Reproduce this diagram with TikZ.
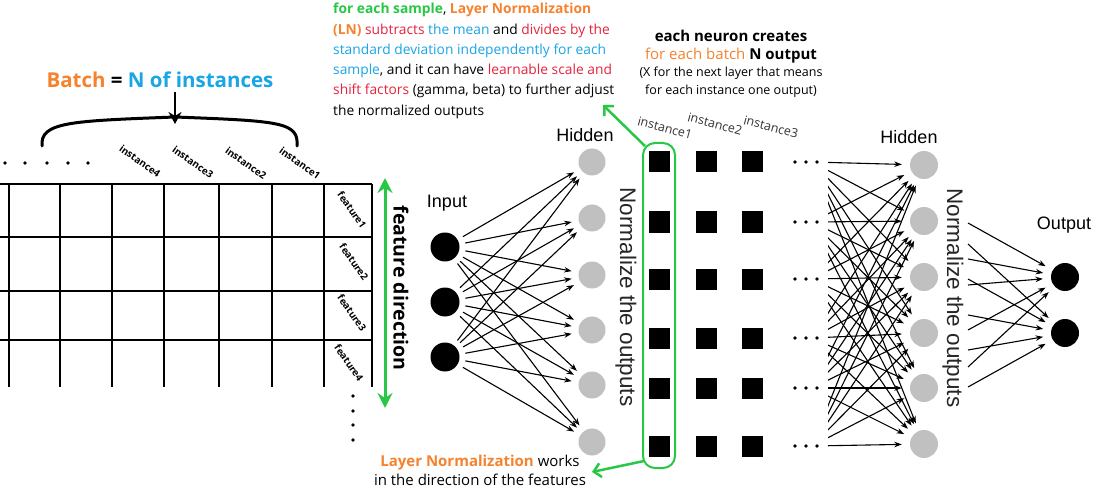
\documentclass[tikz,border=0pt]{standalone}
\usepackage{fontspec}
\setmainfont{Open Sans}
\newfontfamily\arialfont{Liberation Sans}
\usetikzlibrary{arrows.meta,positioning}

\definecolor{lngreen}{RGB}{40,200,70}
\definecolor{lnorange}{RGB}{247,130,45}
\definecolor{lnred}{RGB}{230,35,60}
\definecolor{lnblue}{RGB}{25,165,230}
\definecolor{neurongray}{RGB}{192,192,192}

\begin{document}
\begin{tikzpicture}[x=1pt, y=-1pt,
      inp/.style={circle, fill=black, minimum size=29pt, inner sep=0pt},
      hid/.style={circle, fill=neurongray, minimum size=27pt, inner sep=0pt},
      outn/.style={circle, fill=black, minimum size=28pt, inner sep=0pt},
      sq/.style={fill=black, minimum size=21pt, inner sep=0pt},
      conn/.style={-{Stealth[length=7.5pt,width=5.5pt]}, line width=1.1pt,
        shorten <=6pt, shorten >=7pt},
      mesh/.style={-{Stealth[length=7.5pt,width=5.5pt]}, line width=1.1pt,
        shorten >=8pt},
      grid/.style={line width=1.4pt},
      brace/.style={line width=3pt, line cap=round},
      bigarrow/.style={-{Stealth[length=12pt,width=13pt,inset=4pt]}, line width=2.5pt},
      fdarrow/.style={{Stealth[length=15pt,width=15pt,inset=5pt]}-{Stealth[length=15pt,width=15pt,inset=5pt]},
        line width=3pt, lngreen},
      garrow/.style={-{Straight Barb[length=7pt,width=14pt]}, line width=2.5pt, lngreen},
      lnbox/.style={draw=lngreen, line width=2pt, rounded corners=12pt,
        minimum width=32pt, minimum height=325pt, inner sep=0pt},
      title/.style={font=\bfseries\fontsize{20.5}{22}\selectfont, inner sep=0pt},
      note/.style={align=left, inner sep=0pt},
      tag/.style={font=\bfseries\fontsize{9.8}{11}\selectfont, inner sep=0pt},
      itag/.style={font=\fontsize{12.5}{14}\selectfont, text=black!80, rotate=-15, inner sep=0pt},
      lbl/.style={font=\arialfont\fontsize{18}{20}\selectfont, inner sep=0pt},
      norm/.style={font=\arialfont\fontsize{22.5}{24}\selectfont, text=black!85,
        rotate=-90, inner sep=0pt},
      dot/.style={fill=black}
    ]
    \useasboundingbox (0,0) rectangle (1096,492);
    \fill[white] (0,0) rectangle (1096,492);

    % Batch table on the left
    \foreach \x in {9,60,112,164,219,272,324,372}
      \draw[grid] (\x,184) -- (\x,387);
    \foreach \y in {184,237,291,340}
      \draw[grid] (0,\y) -- (372,\y);
    \foreach \x in {5,25,47,68,88}
      \fill[dot] (\x,163) circle (1.9pt);
    \foreach \y in {396,411,425,440}
      \fill[dot] (353,\y) circle (1.9pt);

    \node[tag, rotate=-35] (t4) at (140,161) {instance4};
    \node[tag, rotate=-35] (t3) at (193,162) {instance3};
    \node[tag, rotate=-35] (t2) at (246,163) {instance2};
    \node[tag, rotate=-35] (t1) at (300,163) {instance1};
    \node[tag, rotate=-55] (f1) at (352,210) {feature1};
    \node[tag, rotate=-55] (f2) at (354,262) {feature2};
    \node[tag, rotate=-55] (f3) at (352,313) {feature3};
    \node[tag, rotate=-55] (f4) at (349,363) {feature4};

    % Batch brace and title
    \node[title] (batch) at (160,80)
      {\textcolor{lnorange}{Batch} = \textcolor{lnblue}{N of instances}};
    \coordinate (brL) at (42,146);
    \coordinate (brR) at (297,146);
    \coordinate (brM) at (175,117);
    \coordinate (brTip) at (175,124);
    \draw[brace] (brL) .. controls (40,122) and (70,121) .. (brM)
      .. controls (280,121) and (299,122) .. (brR);
    \draw[bigarrow] (batch.south -| brTip) ++(0,4) -- (brTip);

    % Feature direction
    \coordinate (fdTop) at (385,178);
    \coordinate (fdBot) at (385,408);
    \draw[fdarrow] (fdTop) -- (fdBot);
    \node[font=\bfseries\fontsize{19.5}{21}\selectfont, rotate=-90, inner sep=0pt]
      (fdir) at (401,288) {feature direction};

    % Input -> first hidden layer
    \node[lbl] (inLbl) at (447,203) {Input};
    \foreach \y [count=\i] in {247,302,357}
      \node[inp] (In\i) at (445,\y) {};
    \node[lbl] (hALbl) at (585,135) {Hidden};
    \foreach \y [count=\j] in {162,218,275,330,385,442}
      \node[hid] (A\j) at (592,\y) {};
    \foreach \i in {1,2,3}
      \foreach \j in {1,...,6}
        \draw[conn] (In\i) -- (A\j);
    \node[norm] (normA) at (626,297) {Normalize the outputs};

    % Outputs per instance
    \foreach \y [count=\r] in {162,222,279,338,388,446} {
      \foreach \x [count=\c] in {659,706,752}
        \node[sq] (S\r\c) at (\x,\y) {};
      \foreach \x in {795,806,817}
        \fill[dot] (\x,\y) circle (1.9pt);
      \coordinate (R\r) at (812,\y);
    }
    \node[itag] (i1) at (665,128) {instance1};
    \node[itag] (i2) at (715,124) {instance2};
    \node[itag] (i3) at (771,127) {instance3};

    \node[lnbox] (lnCol) at (659,305.5) {};
    \coordinate (lnNote) at (603,105);
    \coordinate (lnWorks) at (592,472);
    \draw[garrow] ([xshift=3pt,yshift=-4pt]lnCol.north west) -- (lnNote);
    \draw[garrow] ([xshift=2pt,yshift=8pt]lnCol.south west) -- (lnWorks);

    % Second hidden layer
    \node[lbl] (hBLbl) at (909,137) {Hidden};
    \foreach \y [count=\j] in {165,221,277,333,388,444}
      \node[hid, minimum size=28pt] (B\j) at (924,\y) {};
    \begin{scope}
      \clip (828,100) rectangle (1000,480);
      \foreach \i in {1,...,6}
        \foreach \j in {1,...,6}
          \draw[mesh] (R\i) -- (B\j);
    \end{scope}
    \node[norm] (normB) at (953,298) {Normalize the outputs};

    % Output layer
    \node[lbl] (outLbl) at (1064,225) {Output};
    \node[outn] (O1) at (1065,277) {};
    \node[outn] (O2) at (1065,333) {};
    \foreach \y [count=\k] in {223,259,285,330,367}
      \coordinate (Pa\k) at (968,\y);
    \foreach \y [count=\k] in {244,279,315,350,387}
      \coordinate (Pb\k) at (968,\y);
    \foreach \k in {1,...,5} {
      \draw[mesh] (Pa\k) -- (O1);
      \draw[mesh] (Pb\k) -- (O2);
    }

    % Explanation texts
    \node[note, anchor=north west, font=\fontsize{13.8}{20.3}\selectfont] (lnText) at (333,3)
      {\textcolor{lngreen}{\bfseries for each sample}, \textcolor{lnorange}{\bfseries Layer Normalization}\\
       \textcolor{lnorange}{\bfseries (LN)} \textcolor{lnred}{subtracts} \textcolor{lnblue}{the mean} and \textcolor{lnred}{divides by the}\\
       \textcolor{lnblue}{standard deviation independently for each}\\
       \textcolor{lnblue}{sample}, and it can have \textcolor{lnred}{learnable scale and}\\
       \textcolor{lnred}{shift factors} (gamma, beta) to further adjust\\
       the normalized outputs};
    \node[note, align=center, font=\fontsize{15}{17.5}\selectfont] (neuronText) at (731,64)
      {{\bfseries each neuron creates}\\
       \textcolor{lnorange}{for each batch} {\bfseries N output}\\
       {\fontsize{12.5}{17.5}\selectfont (X for the next layer that means}\\
       {\fontsize{12.5}{17.5}\selectfont for each instance one output)}};
    \node[note, align=center, font=\fontsize{15}{19}\selectfont] (worksText) at (480,470)
      {\textcolor{lnorange}{\bfseries Layer Normalization} works\\
       in the direction of the features};
  \end{tikzpicture}
\end{document}
